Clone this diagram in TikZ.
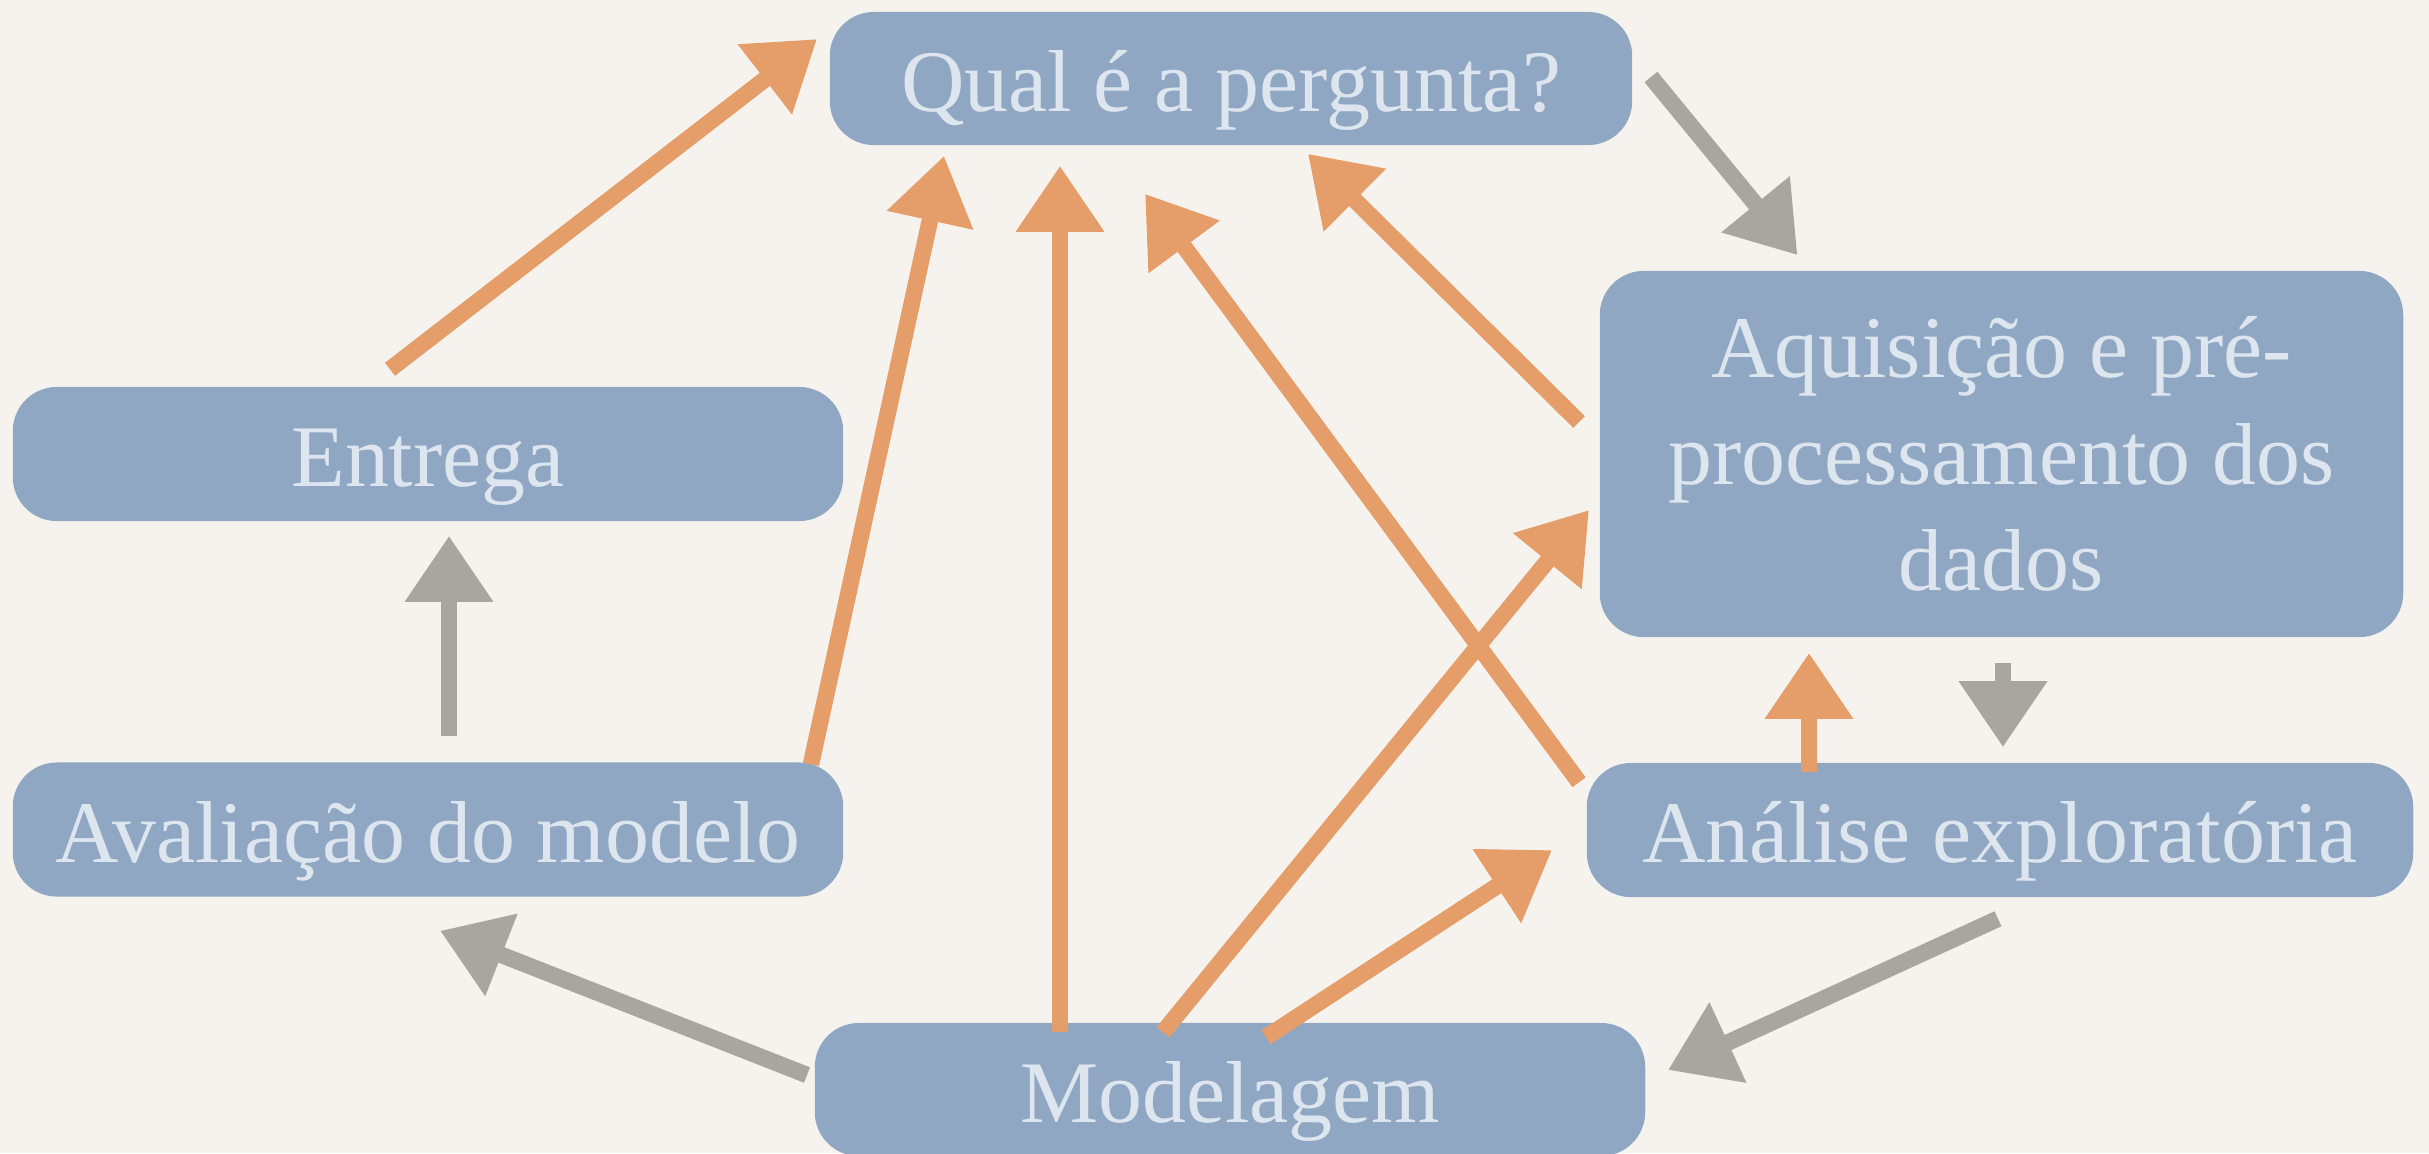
\documentclass[tikz,border=0pt]{standalone}
\usepackage{fontspec}
\setmainfont{Liberation Serif}
\usetikzlibrary{arrows.meta}
\definecolor{bg}{HTML}{F6F3EE}
\definecolor{boxfill}{HTML}{8FA7C2}
\definecolor{boxtext}{HTML}{DDE5EF}
\definecolor{orangearrow}{HTML}{E59E69}
\definecolor{grayarrow}{HTML}{A9A59F}
\begin{document}
\begin{tikzpicture}[x=0.01cm,y=-0.01cm,
  stagebox/.style={fill=boxfill, rounded corners=0.44cm, inner sep=0pt, text=boxtext,
    font=\fontsize{25pt}{30.2pt}\selectfont},
  oneline/.style={stagebox, text height=0.85cm, text depth=0.2cm},
  flow/.style={line width=0.165cm, -{Triangle[length=0.66cm,width=0.84cm]}},
  back/.style={flow, color=orangearrow},
  fwd/.style={flow, color=grayarrow}]
\useasboundingbox (0,0) rectangle (2429,1153);
\fill[bg] (0,0) rectangle (2429,1153);

\node[oneline, minimum width=8.02cm, minimum height=1.33cm] (qual) at (1231,78.5) {Qual é a pergunta?};
\node[stagebox, align=center, minimum width=8.03cm, minimum height=3.66cm] (aq) at (2001.5,454) {Aquisição e pré-\\processamento dos\\dados};
\node[oneline, minimum width=8.30cm, minimum height=1.34cm] (ent) at (428,454) {Entrega};
\node[oneline, minimum width=8.30cm, minimum height=1.34cm] (aval) at (428,829.5) {Avaliação do modelo};
\node[oneline, minimum width=8.26cm, minimum height=1.34cm] (ana) at (2000,830) {Análise exploratória};
\node[oneline, minimum width=8.30cm, minimum height=1.33cm] (mod) at (1230,1089.5) {Modelagem};

\draw[back] ([shift={(-38,-17)}]ent.north) -- ([shift={(-12,-39.5)}]qual.west);
\draw[back] ([shift={(-33,2.5)}]aval.north east) -- ([shift={(115,10)}]qual.south west);
\draw[back] ([shift={(-170,10)}]mod.north) -- ([shift={(-171,20)}]qual.south);
\draw[back] ([shift={(-7,20)}]ana.north west) -- ([shift={(-86,48)}]qual.south);
\draw[back] ([shift={(-20,-32)}]aq.west) -- ([shift={(-325,8)}]qual.south east);
\draw[back] ([shift={(-67,10)}]mod.north) -- ([shift={(-10,56)}]aq.west);
\draw[back] ([shift={(36,15)}]mod.north) -- ([shift={(-34,20)}]ana.west);
\draw[back] ([shift={(-191,10)}]ana.north) -- ([shift={(-192.5,15)}]aq.south);

\draw[fwd] ([shift={(18,-1.5)}]qual.east) -- ([shift={(-204,-15)}]aq.north);
\draw[fwd] ([shift={(1.5,25)}]aq.south) -- ([shift={(3,-15)}]ana.north);
\draw[fwd] ([shift={(-2,21)}]ana.south) -- ([shift={(22,-19.5)}]mod.east);
\draw[fwd] ([shift={(-7,-14.5)}]mod.west) -- ([shift={(12,33.5)}]aval.south);
\draw[fwd] ([shift={(21,-26)}]aval.north) -- ([shift={(21,14)}]ent.south);
\end{tikzpicture}
\end{document}
